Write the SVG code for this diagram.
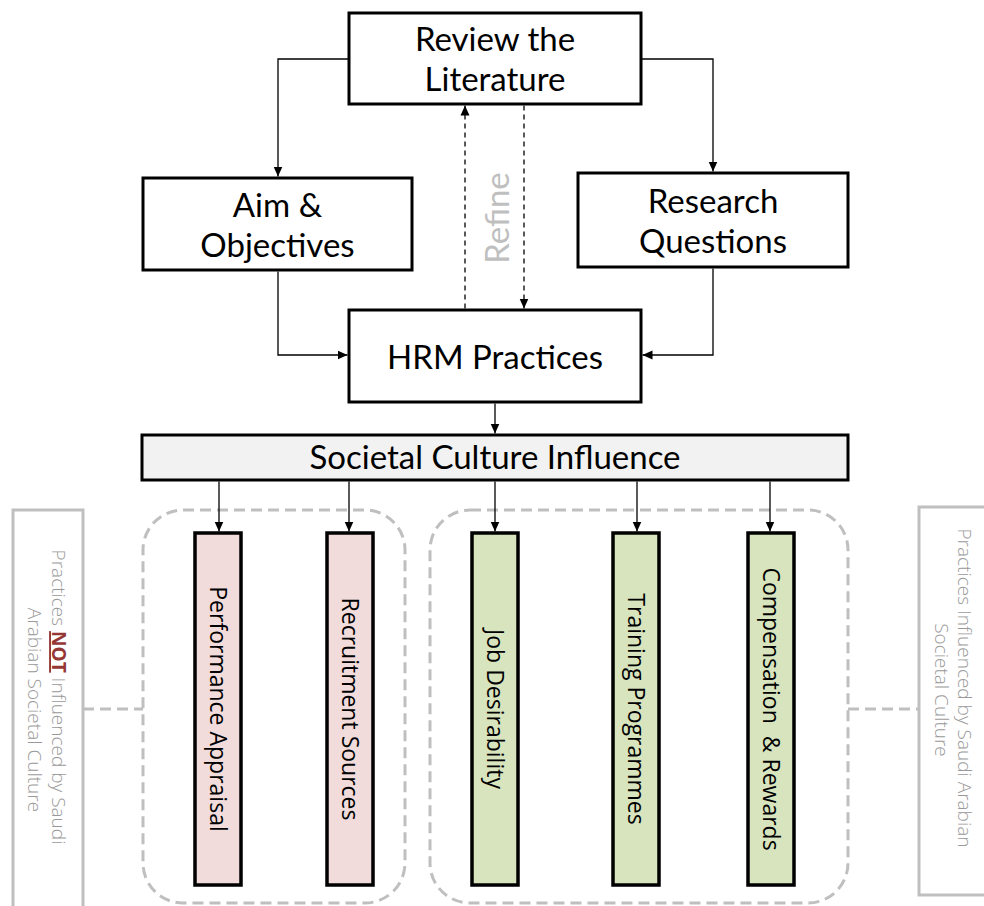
<svg xmlns="http://www.w3.org/2000/svg" width="984" height="906" viewBox="0 0 984 906">
<defs>
<marker id="ah" viewBox="0 0 10 10" refX="10" refY="5" markerWidth="10" markerHeight="10" markerUnits="userSpaceOnUse" orient="auto"><path d="M0,0.5 L10,5 L0,9.5 z" fill="#000"/></marker>
<style>
.box{fill:#fff;stroke:#000;stroke-width:3}
.t{font-family:Lato,"Liberation Sans",sans-serif;font-size:33px;fill:#000;text-anchor:middle}
.bar{stroke:#000;stroke-width:3.5}
.pink{fill:#f2dcdb}
.green{fill:#d7e4bd}
.bt{font-family:"Open Sans","Noto Sans",sans-serif;font-size:23px;fill:#000;text-anchor:middle;white-space:pre}
.c{fill:none;stroke:#000;stroke-width:1.3}
.d{fill:none;stroke:#000;stroke-width:1.3;stroke-dasharray:5,4}
.grp{fill:none;stroke:#bfbfbf;stroke-width:3;stroke-dasharray:11,6}
.side{fill:#fff;stroke:#bfbfbf;stroke-width:3}
.st{font-family:"Open Sans","Noto Sans",sans-serif;font-weight:300;font-size:19px;fill:#999;text-anchor:middle}
</style>
</defs>
<rect width="984" height="906" fill="#fff"/>

<g id="groups">
<rect class="grp" x="143" y="510" width="262" height="393" rx="40"/>
<rect class="grp" x="430" y="510" width="418" height="393" rx="40"/>
<line class="grp" x1="83" y1="709" x2="143" y2="709"/>
<line class="grp" x1="848" y1="709" x2="919" y2="709"/>
</g>

<g id="connectors">
<polyline class="c" points="349,59 278,59 278,176.5" marker-end="url(#ah)"/>
<polyline class="c" points="641,59 713,59 713,171.5" marker-end="url(#ah)"/>
<polyline class="c" points="278,271.5 278,355 347.5,355" marker-end="url(#ah)"/>
<polyline class="c" points="713,268.5 713,355 642.5,355" marker-end="url(#ah)"/>
<line class="d" x1="465" y1="308.5" x2="465" y2="105.5" marker-end="url(#ah)"/>
<line class="d" x1="524" y1="105.5" x2="524" y2="308.5" marker-end="url(#ah)"/>
<line class="c" x1="495" y1="403.5" x2="495" y2="433.5" marker-end="url(#ah)"/>
<line class="c" x1="219" y1="481.5" x2="219" y2="531.5" marker-end="url(#ah)"/>
<line class="c" x1="349" y1="481.5" x2="349" y2="531.5" marker-end="url(#ah)"/>
<line class="c" x1="495" y1="481.5" x2="495" y2="531.5" marker-end="url(#ah)"/>
<line class="c" x1="637" y1="481.5" x2="637" y2="531.5" marker-end="url(#ah)"/>
<line class="c" x1="770" y1="481.5" x2="770" y2="531.5" marker-end="url(#ah)"/>
</g>

<g id="review">
<rect class="box" x="349" y="13" width="292" height="91"/>
<text class="t" x="495" y="51">Review the</text>
<text class="t" x="495" y="91">Literature</text>
</g>

<g id="aim">
<rect class="box" x="143" y="178" width="269" height="92"/>
<text class="t" x="277.5" y="217">Aim &amp;</text>
<text class="t" x="277.5" y="257">Objectives</text>
</g>

<g id="research">
<rect class="box" x="578" y="173" width="270" height="94"/>
<text class="t" x="713" y="213">Research</text>
<text class="t" x="713" y="253">Questions</text>
</g>

<g id="refine">
<text transform="translate(509,218) rotate(-90)" style="font-family:Lato,'Liberation Sans',sans-serif;font-size:33px;fill:#bfbfbf;text-anchor:middle">Refine</text>
</g>

<g id="hrm">
<rect class="box" x="349" y="310" width="292" height="92"/>
<text class="t" x="495" y="369">HRM Practices</text>
</g>

<g id="societal">
<rect class="box" x="142" y="435" width="706" height="45" style="fill:#f2f2f2"/>
<text class="t" x="495" y="469">Societal Culture Influence</text>
</g>

<g id="performance">
<rect class="bar pink" x="195" y="533" width="46" height="352"/>
<text class="bt" transform="translate(210,709) rotate(90)">Performance Appraisal</text>
</g>

<g id="recruitment">
<rect class="bar pink" x="327" y="533" width="46" height="352"/>
<text class="bt" transform="translate(342,709) rotate(90)">Recruitment Sources</text>
</g>

<g id="job">
<rect class="bar green" x="472" y="533" width="46" height="352"/>
<text class="bt" transform="translate(487,709) rotate(90)">Job Desirability</text>
</g>

<g id="training">
<rect class="bar green" x="613" y="533" width="46" height="352"/>
<text class="bt" transform="translate(628,709) rotate(90)">Training Programmes</text>
</g>

<g id="compensation">
<rect class="bar green" x="748" y="533" width="46" height="352"/>
<text class="bt" transform="translate(763,709) rotate(90)">Compensation  &amp; Rewards</text>
</g>

<g id="not-influenced">
<rect class="side" x="13" y="510" width="70" height="420"/>
<text class="st" transform="translate(52,697) rotate(90)">Practices <tspan style="font-weight:700;fill:#953735;text-decoration:underline">NOT</tspan> Influenced by Saudi</text>
<text class="st" transform="translate(28,710) rotate(90)">Arabian Societal Culture</text>
</g>

<g id="influenced">
<rect class="side" x="919" y="507" width="90" height="388"/>
<text class="st" transform="translate(958,688) rotate(90)">Practices Influenced by Saudi Arabian</text>
<text class="st" transform="translate(935,690) rotate(90)">Societal Culture</text>
</g>
</svg>
